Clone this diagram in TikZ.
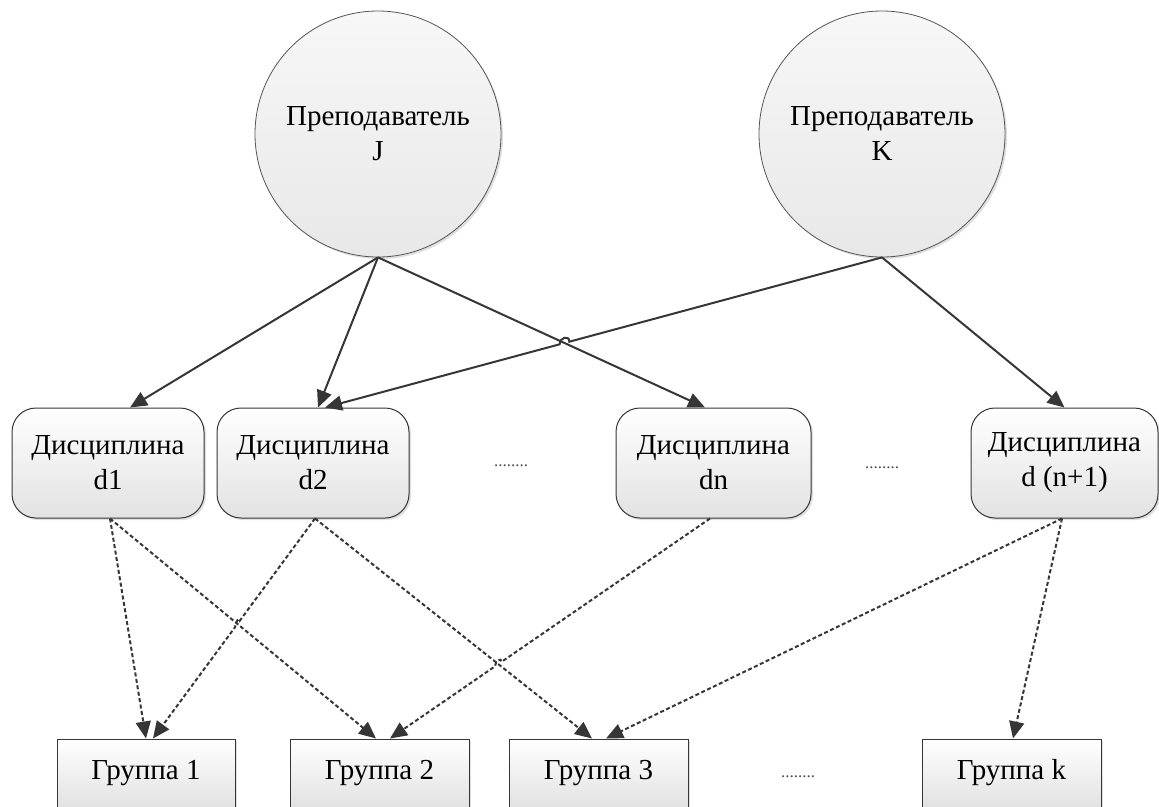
\documentclass[tikz,border=0pt]{standalone}
\usepackage{fontspec}
\setmainfont{Liberation Serif}
\newfontfamily\tnr{Liberation Serif}
\usetikzlibrary{arrows.meta,shadows,calc}
\definecolor{lc}{HTML}{363636}
\definecolor{bc}{HTML}{555555}
\definecolor{circtop}{HTML}{F7F7F7}
\definecolor{circbot}{HTML}{E8E8E8}
\definecolor{boxbot}{HTML}{E2E2E2}
\begin{document}
\begin{tikzpicture}[x=1pt,y=-1pt,
  txt/.style={font=\tnr\fontsize{29}{35}\selectfont, align=center, text=black},
  shad/.style={drop shadow={shadow xshift=2pt,shadow yshift=-2pt,fill=black!25,opacity=0.5}},
  circ/.style={txt, circle, draw=bc, line width=0.8pt, minimum size=246pt, inner sep=0pt,
    top color=circtop, bottom color=circbot, shad},
  disc/.style={txt, rectangle, rounded corners=24pt, draw=lc, line width=1pt,
    top color=white, bottom color=boxbot, minimum height=110pt, inner sep=0pt, shad},
  grp/.style={txt, rectangle, draw=lc, line width=1pt, top color=white, bottom color=boxbot,
    minimum width=179pt, minimum height=68pt, inner sep=0pt, shad},
  dotsnode/.style={font=\tnr\fontsize{17}{17}\selectfont, inner sep=0pt, text=black!70},
  sarrow/.style={draw=lc, line width=2pt, -{Triangle[length=17pt,width=15pt]}},
  darrow/.style={sarrow, dash pattern=on 4pt off 2.5pt}
]
\useasboundingbox (0,0) rectangle (1159,806);
\clip (0,0) rectangle (1159,806);

% teachers
\node[circ] (J) at (378,134) {Преподаватель\\J};
\node[circ] (K) at (882,134) {Преподаватель\\K};

% disciplines
\node[disc, minimum width=192pt] (d1) at (108,463) {Дисциплина\\d1};
\node[disc, minimum width=192pt] (d2) at (313,463) {Дисциплина\\d2};
\node[disc, minimum width=195pt] (dn) at (713.5,463) {Дисциплина\\dn};
\node[disc, minimum width=187pt] (dnp) at (1064.5,463) {Дисциплина\\d (n+1)};

% groups
\node[grp, minimum width=178pt] (G1) at (146,773) {Группа 1};
\node[grp] (G2) at (379.5,773) {Группа 2};
\node[grp] (G3) at (598.5,773) {Группа 3};
\node[grp] (Gk) at (1011.5,773) {Группа k};

% dots
\node[dotsnode] (dotsA) at (511,466) {........};
\node[dotsnode] (dotsB) at (882,468) {........};
\node[dotsnode] (dotsC) at (798,777) {........};

% arrow end coordinates
\coordinate (tJd1) at ([xshift=22pt]d1.north);
\coordinate (tJd2) at ([xshift=5pt]d2.north);
\coordinate (tKd2) at ([xshift=12pt]d2.north);
\coordinate (tJdn) at ([xshift=-8.5pt]dn.north);
\coordinate (tKdnp) at (dnp.north);

\coordinate (s1) at ([xshift=2pt]d1.south);
\coordinate (s2) at ([xshift=2pt]d2.south);
\coordinate (sn) at ([xshift=-3.5pt]dn.south);
\coordinate (snp) at ([xshift=-2.5pt]dnp.south);

\coordinate (g1a) at ([xshift=0pt]G1.north);
\coordinate (g1b) at ([xshift=7pt]G1.north);
\coordinate (g2a) at ([xshift=-3.5pt]G2.north);
\coordinate (g2b) at ([xshift=10.5pt]G2.north);
\coordinate (g3a) at ([xshift=-6.5pt]G3.north);
\coordinate (g3b) at ([xshift=7.5pt]G3.north);
\coordinate (gka) at ([xshift=1.5pt]Gk.north);

% crossings
\coordinate (X1) at (intersection of J.south--tJdn and K.south--tKd2);
\coordinate (X2) at (intersection of s1--g2a and s2--g1b);
\coordinate (X3) at (intersection of s2--g3a and sn--g2b);

% solid arrows
\draw[sarrow] (J.south) -- (tJd1);
\draw[sarrow] (J.south) -- (tJd2);
\draw[sarrow] (J.south) -- (tJdn);
\draw[sarrow] (K.south) -- ($(X1)!5pt!(K.south)$)
  .. controls ($(X1)!5pt!(K.south)+(0,-7)$) and ($(X1)!5pt!(tKd2)+(0,-7)$) ..
  ($(X1)!5pt!(tKd2)$) -- (tKd2);
\draw[sarrow] (K.south) -- (tKdnp);

% dashed arrows
\draw[darrow] (s1) -- (g1a);
\draw[darrow] (s1) -- (g2a);
\draw[darrow] (s2) -- ($(X2)!4pt!(s2)$)
  .. controls ($(X2)!4pt!(s2)+(0,-5)$) and ($(X2)!4pt!(g1b)+(0,-5)$) ..
  ($(X2)!4pt!(g1b)$) -- (g1b);
\draw[darrow] (s2) -- (g3a);
\draw[darrow] (sn) -- ($(X3)!4pt!(sn)$)
  .. controls ($(X3)!4pt!(sn)+(0,-5)$) and ($(X3)!4pt!(g2b)+(0,-5)$) ..
  ($(X3)!4pt!(g2b)$) -- (g2b);
\draw[darrow] (snp) -- (g3b);
\draw[darrow] (snp) -- (gka);
\end{tikzpicture}
\end{document}
